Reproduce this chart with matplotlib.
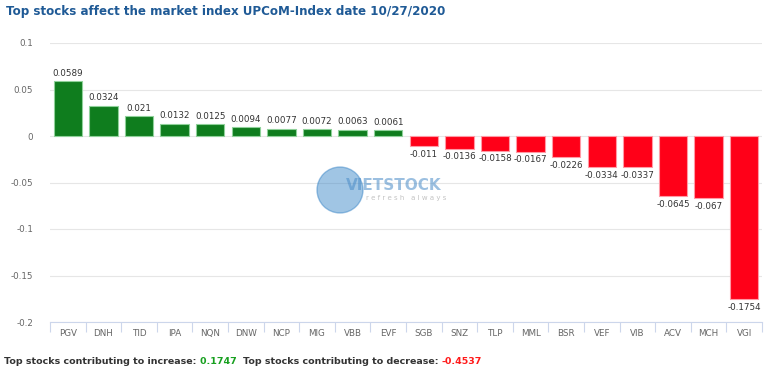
import matplotlib
matplotlib.use("Agg")
import matplotlib.pyplot as plt
from matplotlib.patches import Ellipse

categories = ["PGV", "DNH", "TID", "IPA", "NQN", "DNW", "NCP", "MIG", "VBB", "EVF",
              "SGB", "SNZ", "TLP", "MML", "BSR", "VEF", "VIB", "ACV", "MCH", "VGI"]
values = [0.0589, 0.0324, 0.021, 0.0132, 0.0125, 0.0094, 0.0077, 0.0072, 0.0063, 0.0061,
          -0.011, -0.0136, -0.0158, -0.0167, -0.0226, -0.0334, -0.0337, -0.0645, -0.067, -0.1754]
yticks = [0.1, 0.05, 0, -0.05, -0.1, -0.15, -0.2]
ytick_labels = ["0.1", "0.05", "0", "-0.05", "-0.1", "-0.15", "-0.2"]
total_up = "0.1747"
total_down = "-0.4537"

GREEN = "#0f7d1e"
RED = "#ff0018"

W, H = 773, 374
fig = plt.figure(figsize=(W/100, H/100), dpi=100)
ax = fig.add_axes([50/W, 1-322/H, 712/W, 279/H])

x = list(range(len(categories)))
colors = [GREEN if v >= 0 else RED for v in values]
edges = ["#8fd19a" if v >= 0 else "#ff9aa5" for v in values]
ax.bar(x, values, width=0.8, color=colors, edgecolor=edges, linewidth=0.8, zorder=3)

for xi, v in zip(x, values):
    if v >= 0:
        ax.text(xi, v + 0.004, f"{v:g}", ha="center", va="bottom", fontsize=6.3, color="#333333", zorder=4)
    else:
        ax.text(xi, v - 0.004, f"{v:g}", ha="center", va="top", fontsize=6.3, color="#333333", zorder=4)

ax.set_xlim(-0.5, len(categories) - 0.5)
ax.set_ylim(-0.2, 0.1)
ax.set_yticks(yticks)
ax.set_yticklabels(ytick_labels)
ax.grid(axis="y", color="#e6e6e6", linewidth=0.8, zorder=0)
ax.set_xticks(x)
ax.set_xticklabels(categories)
ax.tick_params(axis="x", length=0, labelsize=6.3, labelcolor="#666666", pad=5)
ax.tick_params(axis="y", length=0, labelsize=6.3, labelcolor="#666666", pad=12)
for s in ["top", "right", "left"]:
    ax.spines[s].set_visible(False)
ax.spines["bottom"].set_color("#ccd6eb")
ax.spines["bottom"].set_linewidth(0.8)
ax.set_xticks([i - 0.5 for i in range(len(categories) + 1)], minor=True)
ax.tick_params(axis="x", which="minor", length=7, color="#ccd6eb", width=0.8)

# watermark
circ = Ellipse((340/W, 1-190/H), 46/W, 46/H, transform=fig.transFigure,
               color="#2e7fc4", alpha=0.45, zorder=1)
fig.patches.append(circ)
fig.text(346/W, 1-185/H, "VIETSTOCK", fontsize=11, fontweight="bold", color="#4a8cc8", alpha=0.55, va="center")
fig.text(366/W, 1-198/H, "r e f r e s h   a l w a y s", fontsize=5, color="#888888", alpha=0.5, va="center")

fig.text(6/W, 1-12/H, "Top stocks affect the market index UPCoM-Index date 10/27/2020",
         fontsize=8.6, fontweight="bold", color="#1f5a96", va="center", ha="left")

fs = 6.8
t1 = fig.text(4/W, 1-361/H, "Top stocks contributing to increase: ", fontsize=fs, fontweight="semibold", color="#333333", va="center")
fig.canvas.draw()
r = fig.canvas.get_renderer()
bb = t1.get_window_extent(r)
t2 = fig.text(bb.x1 / fig.bbox.width, 1-361/H, total_up + "  ", fontsize=fs, fontweight="semibold", color="#18a020", va="center")
bb = t2.get_window_extent(r)
t3 = fig.text(bb.x1 / fig.bbox.width, 1-361/H, "Top stocks contributing to decrease: ", fontsize=fs, fontweight="semibold", color="#333333", va="center")
bb = t3.get_window_extent(r)
fig.text(bb.x1 / fig.bbox.width, 1-361/H, total_down, fontsize=fs, fontweight="semibold", color="#ff1a1a", va="center")

fig.savefig("out.png", dpi=100)
